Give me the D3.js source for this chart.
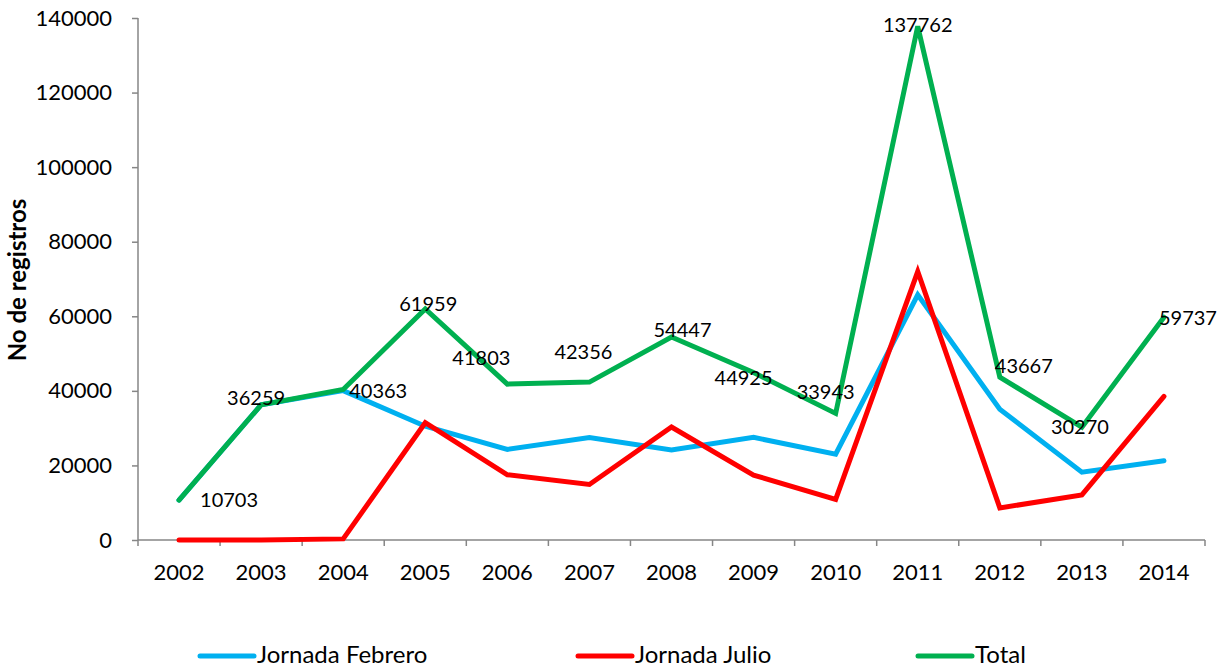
<!DOCTYPE html>
<html>
<head>
<meta charset="utf-8">
<script src="https://cdn.jsdelivr.net/npm/d3@7/dist/d3.min.js"></script>
<style>
  html, body { margin: 0; padding: 0; background: #fff; }
  svg { display: block; }
  text { font-family: Lato, "Open Sans", sans-serif; fill: #000; }
</style>
</head>
<body>
<svg id="chart" width="1224" height="670"></svg>
<script>
// ---- Data ----
const years = ["2002","2003","2004","2005","2006","2007","2008","2009","2010","2011","2012","2013","2014"];
const febrero = [10703, 36259, 40063, 30509, 24303, 27456, 24147, 27525, 23043, 65762, 35067, 18170, 21237];
const julio   = [0, 0, 300, 31450, 17500, 14900, 30300, 17400, 10900, 72000, 8600, 12100, 38500];
const total   = [10703, 36259, 40363, 61959, 41803, 42356, 54447, 44925, 33943, 137762, 43667, 30270, 59737];
const yTicks  = [0, 20000, 40000, 60000, 80000, 100000, 120000, 140000];
const seriesNames = ["Jornada Febrero", "Jornada Julio", "Total"];
const yTitle = "No de registros";

// ---- Styling / layout (not data) ----
const colors = ["#00B0F0", "#FF0000", "#00B050"];
const labelOffsets = [[50,0],[-5,-7],[35,1],[3,-5],[-26,-26],[-6,-30],[11,-7],[-10,6],[-10,-21],[0,-1],[24,-11],[-2,0],[24,1]];

const svg = d3.select("#chart");
const x = d3.scaleBand().domain(years).range([138, 1205]).padding(0);
const y = d3.scaleLinear().domain([0, 140000]).range([540, 18]);
const cx = d => x(d) + x.bandwidth() / 2;

// Y axis
const yAxis = svg.append("g").attr("transform", "translate(138,0)")
  .call(d3.axisLeft(y).tickValues(yTicks).tickSize(6).tickPadding(20).tickFormat(d3.format("d")));
yAxis.selectAll("path, line").attr("stroke", "#868686").attr("stroke-width", 1.5);
yAxis.select(".domain").attr("d", `M0,${y(140000)}V${y(0)}`);
yAxis.selectAll("text").style("font-size", "22px").style("font-family", "Lato, sans-serif").attr("fill", "#000");

// X axis
const xg = svg.append("g").attr("transform", `translate(0,${y(0)})`);
xg.append("line").attr("x1", x.range()[0]).attr("x2", x.range()[1]).attr("y1", 0).attr("y2", 0)
  .attr("stroke", "#868686").attr("stroke-width", 1.5);
const bounds = years.map(d => x(d)).concat([x.range()[1]]);
xg.selectAll("line.tick").data(bounds).enter().append("line").attr("class", "tick")
  .attr("x1", d => d).attr("x2", d => d).attr("y1", 0).attr("y2", 6)
  .attr("stroke", "#868686").attr("stroke-width", 1.5);
xg.selectAll("text").data(years).enter().append("text")
  .attr("x", d => cx(d)).attr("y", 40).attr("text-anchor", "middle")
  .style("font-size", "22px").text(d => d);

// Y title
svg.append("text").attr("transform", "translate(26,280) rotate(-90)")
  .attr("text-anchor", "middle").style("font-size", "24px").style("font-weight", "bold").text(yTitle);

// Lines
const line = d3.line().x((d, i) => cx(years[i])).y(d => y(d));
[febrero, julio, total].forEach((s, k) => {
  svg.append("path").datum(s).attr("d", line).attr("fill", "none")
    .attr("stroke", colors[k]).attr("stroke-width", 5).attr("stroke-linejoin", "miter").attr("stroke-linecap", "round");
});

// Data labels on total
svg.selectAll("text.dl").data(total).enter().append("text").attr("class", "dl")
  .attr("x", (d, i) => cx(years[i]) + labelOffsets[i][0])
  .attr("y", (d, i) => y(d) + labelOffsets[i][1])
  .attr("dy", "0.35em").attr("text-anchor", "middle")
  .style("font-size", "20px").text(d => d);

// Legend
const legendX = [200, 578, 918];
seriesNames.forEach((n, k) => {
  svg.append("line").attr("x1", legendX[k]).attr("x2", legendX[k] + 54).attr("y1", 656).attr("y2", 656)
    .attr("stroke", colors[k]).attr("stroke-width", 5).attr("stroke-linecap", "round");
  svg.append("text").attr("x", legendX[k] + 57).attr("y", 663)
    .style("font-size", "24px").text(n);
});
</script>
</body>
</html>
